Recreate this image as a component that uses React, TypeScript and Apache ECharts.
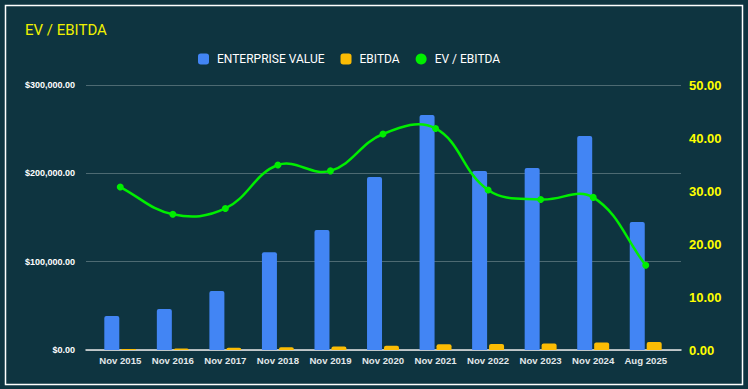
import React, { useEffect, useRef } from 'react';
import * as echarts from 'echarts';

const categories = [
  'Nov 2015', 'Nov 2016', 'Nov 2017', 'Nov 2018', 'Nov 2019', 'Nov 2020',
  'Nov 2021', 'Nov 2022', 'Nov 2023', 'Nov 2024', 'Aug 2025',
];
const enterpriseValue = [38500, 46400, 66800, 110600, 135800, 195900, 266000, 202600, 206000, 242300, 145000];
const ebitda = [1250, 1800, 2500, 3200, 4000, 4800, 6400, 6700, 7250, 8400, 9100];
const evEbitda = [30.75, 25.6, 26.7, 34.9, 33.8, 40.75, 41.8, 30.2, 28.4, 28.8, 16.0];

const leftMin = 0;
const leftMax = 300000;
const leftInterval = 100000;
const rightMin = 0;
const rightMax = 50;
const rightInterval = 10;

const LINE_COLOR = '#00ee00';
const TENSION = 0.4;

export default function App() {
  const ref = useRef<HTMLDivElement>(null);
  useEffect(() => {
    const chart = echarts.init(ref.current!, null, { renderer: 'svg' });
    const gridColor = '#4d6a72';

    const renderSegment = (params: any, api: any) => {
      const i = params.dataIndex;
      const n = evEbitda.length;
      if (i >= n - 1) return null;
      const pt = (k: number) => {
        const kk = Math.max(0, Math.min(n - 1, k));
        return api.coord([kk, evEbitda[kk]]);
      };
      const ctrl = (k: number) => {
        const prev = pt(k - 1);
        const cur = pt(k);
        const next = pt(k + 1);
        const d01 = Math.hypot(cur[0] - prev[0], cur[1] - prev[1]);
        const d12 = Math.hypot(next[0] - cur[0], next[1] - cur[1]);
        const sum = d01 + d12 || 1;
        const fa = (TENSION * d01) / sum;
        const fb = (TENSION * d12) / sum;
        return {
          before: [cur[0] - fa * (next[0] - prev[0]), cur[1] - fa * (next[1] - prev[1])],
          after: [cur[0] + fb * (next[0] - prev[0]), cur[1] + fb * (next[1] - prev[1])],
        };
      };
      const p0 = pt(i);
      const p1 = pt(i + 1);
      const c0 = ctrl(i).after;
      const c1 = ctrl(i + 1).before;
      return {
        type: 'bezierCurve',
        shape: {
          x1: p0[0], y1: p0[1],
          x2: p1[0], y2: p1[1],
          cpx1: c0[0], cpy1: c0[1],
          cpx2: c1[0], cpy2: c1[1],
        },
        style: { stroke: LINE_COLOR, lineWidth: 2.5, fill: null },
      };
    };

    chart.setOption({
      animation: false,
      backgroundColor: '#0e3440',
      title: {
        text: 'EV / EBITDA',
        left: 20,
        top: 17,
        textStyle: { color: '#f0f000', fontFamily: 'Roboto', fontSize: 15, fontWeight: 'normal' },
      },
      legend: {
        left: 193,
        top: 48,
        itemWidth: 11,
        itemHeight: 11,
        itemGap: 16,
        textStyle: { color: '#ffffff', fontFamily: 'Roboto', fontSize: 12, padding: [0, 0, 0, 3] },
        data: [
          { name: 'ENTERPRISE VALUE', icon: 'roundRect' },
          { name: 'EBITDA', icon: 'roundRect' },
          { name: 'EV / EBITDA', icon: 'circle' },
        ],
      },
      graphic: [
        {
          type: 'rect',
          silent: true,
          shape: { x: 5.5, y: 5.5, width: 737, height: 379 },
          style: { fill: 'none', stroke: '#ffffff', lineWidth: 1.5 },
        },
      ],
      grid: [
        { left: 86, right: 67, top: 85, bottom: 39 },
        { left: 94, right: 76, top: 85, bottom: 39 },
      ],
      xAxis: [
        {
          type: 'category',
          gridIndex: 0,
          data: categories,
          axisLine: { show: true, lineStyle: { color: '#e8e8e8', width: 1.5 } },
          axisTick: { show: false },
          axisLabel: { show: false },
          splitLine: { show: false },
        },
        {
          type: 'category',
          gridIndex: 1,
          data: categories,
          axisLine: { show: false },
          axisTick: { show: false },
          axisLabel: {
            color: '#e2e8ea',
            fontFamily: 'Liberation Sans',
            fontSize: 9.6,
            fontWeight: 'bold',
            margin: 5,
            interval: 0,
          },
        },
      ],
      yAxis: [
        {
          type: 'value',
          gridIndex: 0,
          position: 'left',
          min: leftMin,
          max: leftMax,
          interval: leftInterval,
          axisLine: { show: false },
          axisTick: { show: false },
          axisLabel: {
            color: '#ffffff',
            fontFamily: 'Liberation Sans',
            fontSize: 9,
            fontWeight: 'bold',
            margin: 11,
            formatter: (v: number) =>
              '$' + v.toLocaleString('en-US', { minimumFractionDigits: 2, maximumFractionDigits: 2 }),
          },
          splitLine: { show: true, lineStyle: { color: gridColor, width: 1 } },
        },
        {
          type: 'value',
          gridIndex: 0,
          position: 'right',
          min: rightMin,
          max: rightMax,
          interval: rightInterval,
          axisLine: { show: false },
          axisTick: { show: false },
          splitLine: { show: false },
          axisLabel: {
            color: '#ffff00',
            fontFamily: 'Liberation Sans',
            fontSize: 13,
            fontWeight: 'bold',
            margin: 8,
            formatter: (v: number) => v.toFixed(2),
          },
        },
        { type: 'value', gridIndex: 1, min: leftMin, max: leftMax, show: false },
        { type: 'value', gridIndex: 1, min: rightMin, max: rightMax, show: false },
      ],
      series: [
        {
          name: 'ENTERPRISE VALUE',
          type: 'bar',
          xAxisIndex: 1,
          yAxisIndex: 2,
          data: enterpriseValue,
          barWidth: 15,
          barGap: '13%',
          itemStyle: { color: '#4285f4', borderRadius: [2, 2, 0, 0] },
        },
        {
          name: 'EBITDA',
          type: 'bar',
          xAxisIndex: 1,
          yAxisIndex: 2,
          data: ebitda,
          barWidth: 15,
          barGap: '13%',
          itemStyle: { color: '#fbbc04', borderRadius: [2, 2, 0, 0] },
        },
        {
          type: 'custom',
          xAxisIndex: 1,
          yAxisIndex: 3,
          data: evEbitda.map((v, i) => [i, v]),
          renderItem: renderSegment,
          silent: true,
          z: 9,
        },
        {
          name: 'EV / EBITDA',
          type: 'line',
          xAxisIndex: 1,
          yAxisIndex: 3,
          data: evEbitda,
          symbol: 'circle',
          symbolSize: 7,
          z: 10,
          lineStyle: { color: LINE_COLOR, width: 2.5, opacity: 0 },
          itemStyle: { color: LINE_COLOR },
        },
      ],
    });
    return () => chart.dispose();
  }, []);
  return <div ref={ref} style={{ position: 'fixed', left: 0, top: 0, width: 748, height: 389 }} />;
}
